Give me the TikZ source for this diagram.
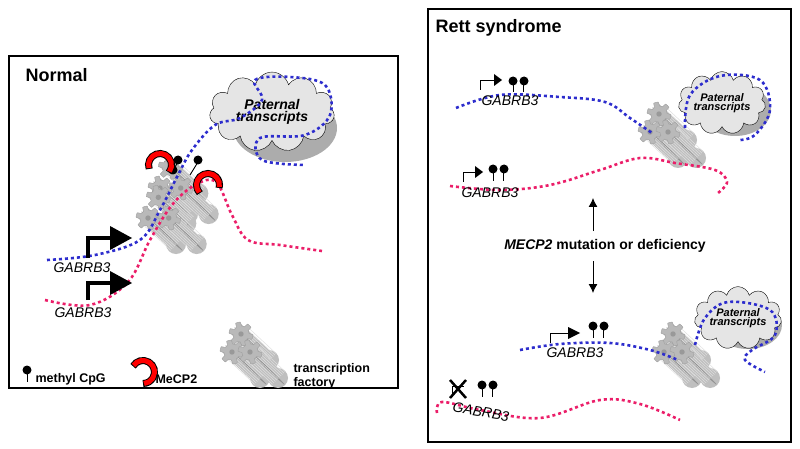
\documentclass[tikz,border=0pt]{standalone}
\usepackage{fontspec}
\setmainfont{Liberation Sans}
\usetikzlibrary{shapes.symbols,arrows.meta}
\definecolor{dblue}{RGB}{45,45,205}
\definecolor{dpink}{RGB}{235,30,105}
\begin{document}
\begin{tikzpicture}[x=1pt,y=-1pt,
  blue dots/.style={dblue,line width=2.6pt,dash pattern=on 3pt off 3pt},
  pink dots/.style={dpink,line width=2.6pt,dash pattern=on 3pt off 3pt},
  title/.style={font=\bfseries\fontsize{18}{20}\selectfont,anchor=west},
  gene/.style={font=\itshape\fontsize{14}{16}\selectfont},
  lab/.style={font=\bfseries\fontsize{12.5}{14}\selectfont,anchor=west},
  pat/.style={font=\bfseries\itshape\fontsize{#1}{#1}\selectfont,align=center},
  cloudy/.style={cloud,cloud puffs=11,aspect=1.7,draw,inner sep=0pt,minimum width=#1},
  pics/gear/.style={code={
    \fill[gray!50] (28,26) circle (10);
    \fill[gray!50] (-10,0) -- (10,0) -- (38,26) -- (18,26) -- cycle;
    \fill[gray!50] (0,-10) -- (0,10) -- (28,36) -- (28,16) -- cycle;
    \foreach \k in {-9,-7,...,9} \draw[gray!85,line width=0.7pt] (\k*0.7,{\k*0.7}) -- ++(28,26);
    \foreach \k in {-9,-7,...,9} \draw[gray!25,line width=0.5pt] (\k*0.7+1,{-\k*0.7}) -- ++(28,26);
    \fill[gray!55,draw=gray!75] plot[samples=97,domain=0:360,variable=\t] (\t:{10+2*sign(sin(6*\t))}) -- cycle;
    \fill[gray!80] (0,0) circle (2.7);
  }},
  pics/factory/.style={code={
    \pic at (9,-11) {gear}; \pic at (0,7) {gear}; \pic at (18,7) {gear};
  }},
  pics/mecp/.style={code={
    \draw[line width=7pt] (-9.96,5.75) arc[start angle=150,end angle=390,radius=11.5];
    \draw[red,line width=5pt] (-10.42,4.86) arc[start angle=155,end angle=385,radius=11.5];
  }},
  lolly/.style={line width=0.9pt},
]
\useasboundingbox (0,0) rectangle (800,449);
% boxes
\draw[line width=1.2pt] (9,56) rectangle (398,388);
\draw[line width=1.2pt] (428,9) rectangle (791,442);
\node[title] (tn) at (22,75) {Normal};
\node[title] (tr) at (432,28) {Rett syndrome};

% ---------- Normal ----------
\fill[gray!65] (285,128) ellipse (52 and 34);
\node[cloudy=125pt,fill=gray!20,pat=14] (c1) at (272,112) {Paternal\\[-2pt]transcripts};
\pic[scale=1.15] at (160,180) {factory};
\pic[scale=1.15] at (148,210) {factory};
\draw[pink dots] plot[smooth,tension=0.6] coordinates {(45,300) (90,305) (128,282) (150,240) (172,205) (195,185) (216,182) (232,215) (248,240) (280,245) (322,251)};
\draw[blue dots] plot[smooth,tension=0.6] coordinates {(47,260) (95,255) (140,240) (160,210) (178,175) (192,150) (215,125) (240,118) (262,100) (255,80) (290,77) (325,85) (330,115) (305,135) (260,138) (262,160) (305,165)};
% MeCP2 at DNA
\draw[lolly] (172,172) -- (178,162); \draw[lolly] (190,175) -- (198,162);
\foreach \x/\y in {172,198}{}
\fill (178,160) circle (4.5); \fill (198,160) circle (4.5);
\fill (173,170) circle (4.5);
\pic[rotate=-10] at (160,165) {mecp};
\pic[rotate=15] at (208,185) {mecp};
% promoters
\draw[line width=4pt] (88,258) -- (88,238) -- (112,238);
\fill (110,226) -- (132,238) -- (110,250) -- cycle;
\draw[line width=4pt] (88,300) -- (88,283) -- (112,283);
\fill (110,271) -- (132,283) -- (110,295) -- cycle;
\node[gene] (g1) at (82,268) {GABRB3};
\node[gene] (g2) at (83,313) {GABRB3};
% legend
\draw[lolly] (27,371) -- (27,382);
\fill (27,370) circle (4.5);
\node[lab] (l1) at (32,379) {methyl CpG};
\pic[rotate=-60] at (143,372) {mecp};
\node[lab] (l2) at (152,379) {MeCP2};
\pic at (232,345) {factory};
\node[lab,align=left] (l3) at (290,376) {transcription\\factory};

% ---------- Rett top ----------
\fill[gray!65] (735,110) ellipse (36 and 26);
\node[cloudy=80pt,fill=gray!20,pat=11] (c2) at (722,103) {Paternal\\[-2pt]transcripts};
\pic at (650,125) {factory};
\draw[blue dots] plot[smooth,tension=0.6] coordinates {(456,108) (500,95) (560,97) (605,102) (630,118) (652,133)};
\draw[blue dots] plot[smooth,tension=0.6] coordinates {(685,128) (690,95) (720,76) (760,80) (770,110) (755,135) (740,140)};
\draw[pink dots] plot[smooth,tension=0.6] coordinates {(450,186) (500,190) (550,185) (600,170) (640,158) (675,163) (715,170) (727,182) (718,193)};
\draw[line width=0.9pt] (480,90) -- (480,80) -- (496,80);
\fill (494,74) -- (502,80) -- (494,86) -- cycle;
\draw[lolly] (513,84) -- (513,92); \draw[lolly] (523,84) -- (523,92);
\fill (513,81) circle (4.5); \fill (524,81) circle (4.5);
\node[gene] (g3) at (510,101) {GABRB3};
\draw[line width=0.9pt] (463,182) -- (463,172) -- (477,172);
\fill (475,166) -- (483,172) -- (475,178) -- cycle;
\draw[lolly] (493,172) -- (493,181); \draw[lolly] (503,172) -- (503,181);
\fill (493,169) circle (4.5); \fill (504,169) circle (4.5);
\node[gene] (g4) at (490,193) {GABRB3};

% middle
\node[font=\bfseries\fontsize{14}{16}\selectfont] (mt) at (605,246) {\textit{MECP2} mutation or deficiency};
\coordinate (up) at (593,198);
\coordinate (dn) at (593,293);
\draw[-{Latex[length=9pt,width=9pt]},line width=0.9pt] (593,231) -- (up);
\draw[-{Latex[length=9pt,width=9pt]},line width=0.9pt] (593,261) -- (dn);

% ---------- Rett bottom ----------
\fill[gray!65] (748,325) ellipse (34 and 24);
\node[cloudy=78pt,fill=gray!20,pat=11] (c3) at (738,318) {Paternal\\[-2pt]transcripts};
\pic at (664,345) {factory};
\draw[blue dots] plot[smooth,tension=0.6] coordinates {(520,350) (560,344) (610,343) (650,350) (678,360)};
\draw[blue dots] plot[smooth,tension=0.6] coordinates {(695,345) (705,318) (728,302) (770,310) (775,335) (752,350) (745,360) (765,372)};
\draw[line width=0.9pt] (550,343) -- (550,333) -- (570,333);
\fill (568,327) -- (580,333) -- (568,339) -- cycle;
\draw[lolly] (593,329) -- (593,338); \draw[lolly] (603,329) -- (603,338);
\fill (593,326) circle (4.5); \fill (604,326) circle (4.5);
\node[gene] (g5) at (575,353) {GABRB3};
\draw[pink dots] plot[smooth,tension=0.6] coordinates {(437,413) (442,402) (480,410) (540,418) (600,400) (640,404) (680,420)};
\draw[line width=0.9pt] (452,394) -- (452,386) -- (464,386);
\draw[line width=2.5pt] (450,380) -- (466,398) (466,380) -- (450,398);
\draw[lolly] (482,388) -- (482,397); \draw[lolly] (492,388) -- (492,397);
\fill (482,385) circle (4.5); \fill (493,385) circle (4.5);
\node[gene,rotate=-10] (g6) at (481,412) {GABRB3};
\end{tikzpicture}
\end{document}
